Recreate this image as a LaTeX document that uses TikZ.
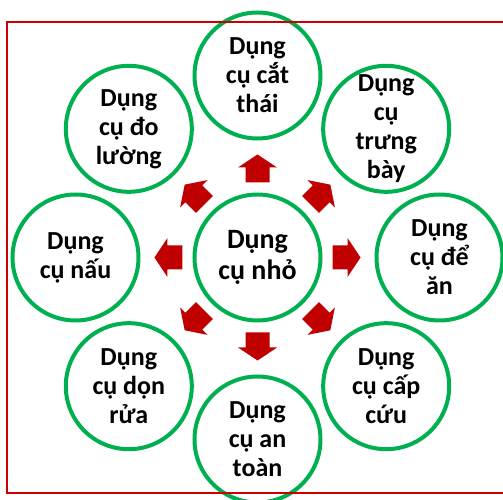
\documentclass[tikz,border=0pt]{standalone}
\usepackage{fontspec}
\setmainfont{Carlito}
\usetikzlibrary{positioning}
\definecolor{itemgreen}{RGB}{0,176,80}
\definecolor{arrowred}{RGB}{192,0,0}
\definecolor{framered}{RGB}{204,0,0}

\begin{document}
\begin{tikzpicture}[x=1pt, y=1pt,
item/.style = {circle, draw=itemgreen, line width=4pt, minimum size=126pt, inner sep=-12pt, align=center, font=\bfseries\fontsize{26}{29}\selectfont},
hub/.style = {item, font=\bfseries\fontsize{28}{31}\selectfont},
outarrow/.style = {fill=arrowred},
]
\useasboundingbox (-257.5,-242.5) rectangle (245.5,257.5);

% centre
\node[hub] (ctr) at (0,0) {Dụng\\cụ nhỏ};

% ring of tools
\node[item] (catthai)  at (90:182)  {Dụng\\cụ cắt\\thái};
\node[item] (trungbay) at (45:182)  {Dụng\\cụ\\trưng\\bày};
\node[item] (dean)     at (0:182)   {Dụng\\cụ để\\ăn};
\node[item] (capcuu)   at (-45:182) {Dụng\\cụ cấp\\cứu};
\node[item] (antoan)   at (-90:182) {Dụng\\cụ an\\toàn};
\node[item] (donrua)   at (-135:182) {Dụng\\cụ dọn\\rửa};
\node[item] (nau)      at (180:182) {Dụng\\cụ nấu};
\node[item] (doluong)  at (135:182) {Dụng\\cụ đo\\lường};

% block arrows
\foreach \a in {0,45,...,315}
  \fill[outarrow, shift={(ctr.center)}, rotate=\a]
    (75,-12) -- (90,-12) -- (90,-19.5) -- (103,0) -- (90,19.5) -- (90,12) -- (75,12) -- cycle;

% frame
\draw[framered, line width=1.3pt] (-250.5,-235.5) rectangle (247.5,235.5);
\end{tikzpicture}
\end{document}
